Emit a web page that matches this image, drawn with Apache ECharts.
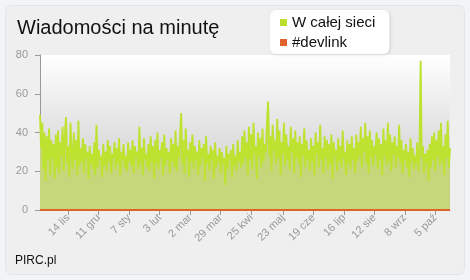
<!DOCTYPE html>
<html><head><meta charset="utf-8">
<script src="https://cdn.jsdelivr.net/npm/echarts@6/dist/echarts.min.js"></script>
<style>html,body{margin:0;padding:0;background:#f3f4f8;}#c{width:470px;height:280px;}</style>
</head><body><div id="c"></div>
<script>
const titleText = 'Wiadomości na minutę';
const seriesNames = ['W całej sieci', '#devlink'];
const monthNames = ['sty','lut','mar','kwi','maj','cze','lip','sie','wrz','paź','lis','gru'];
const startDate = [2009, 9, 20];
const tickLabels = ['14 lis','11 gru','7 sty','3 lut','2 mar','29 mar','25 kwi','23 maj','19 cze','16 lip','12 sie','8 wrz','5 paź'];
const yTicks = [0, 20, 40, 60, 80];
const allNetwork = [
49,32,45,21,40,15,38,26,42,18,36,27,34,16,39,22,41,19,35,28,
43,20,38,48,24,33,17,45,30,21,40,26,36,18,46,23,32,25,37,19,
34,27,30,16,33,24,29,21,35,18,44,22,31,26,28,17,34,23,30,20,
36,25,33,19,29,27,35,21,32,24,37,18,30,26,34,22,28,20,35,25,
31,23,36,19,33,27,30,21,43,24,32,18,37,26,29,22,34,20,38,25,
33,16,36,24,40,21,31,27,35,18,39,23,32,26,30,19,37,25,34,22,
41,20,33,27,38,50,24,36,19,42,28,31,17,35,25,39,21,33,26,30,
18,36,23,32,27,34,15,38,24,29,20,33,26,31,16,35,22,28,25,32,
19,30,24,27,13,33,21,29,26,31,17,34,23,28,20,36,25,30,22,38,
24,41,27,35,18,43,26,39,21,45,29,33,16,40,28,37,22,42,25,34,
30,46,56,28,38,20,44,31,36,24,47,27,41,18,35,29,45,23,39,26,
33,21,43,30,37,19,41,27,35,24,38,17,34,28,42,22,36,26,31,20,
37,25,33,18,40,29,35,22,44,26,32,19,38,27,36,21,34,24,39,16,
35,28,31,20,37,25,33,22,41,27,30,18,36,24,34,21,38,26,32,19,
39,25,35,28,43,22,37,30,45,24,38,19,41,27,36,23,33,29,40,21,
37,26,34,18,42,28,36,23,45,25,39,20,35,29,38,22,33,27,44,24,
36,19,31,26,34,22,30,17,37,25,32,21,28,24,35,20,30,77,27,33,
19,29,24,31,15,34,22,38,26,40,20,36,28,41,23,45,25,33,18,39,
27,46,22,32
];
const devlink = allNetwork.map(() => 0);

const categories = [];
for (let i = 0; i < allNetwork.length; i++) {
  const d = new Date(startDate[0], startDate[1], startDate[2] + i);
  categories.push(d.getDate() + ' ' + monthNames[d.getMonth()]);
}
const isTick = (i, v) => tickLabels.indexOf(categories[i]) >= 0;

const chart = echarts.init(document.getElementById('c'), null, {renderer: 'canvas'});
chart.setOption({
  animation: false,
  backgroundColor: 'transparent',
  textStyle: {fontFamily: 'Liberation Sans, Arial, sans-serif'},
  graphic: [
    {type: 'rect', z: -10, shape: {x: 5.5, y: 5.5, width: 459, height: 269, r: 6},
     style: {fill: '#efefef', stroke: '#e3e4e8', lineWidth: 1}},
    {type: 'text', left: 15, top: 255, style: {text: 'PIRC.pl', fill: '#111', font: '12px Liberation Sans, Arial, sans-serif'}}
  ],
  title: {text: titleText, left: 12, top: 13,
    textStyle: {fontSize: 20, fontWeight: 'normal', color: '#111', fontFamily: 'Liberation Sans, Arial, sans-serif'}},
  legend: {
    orient: 'vertical', left: 270, top: 10,
    backgroundColor: '#fff', borderRadius: 6, padding: [5, 14, 4, 10],
    shadowBlur: 3, shadowColor: 'rgba(0,0,0,0.12)', shadowOffsetX: 1, shadowOffsetY: 1,
    itemWidth: 7, itemHeight: 7, itemGap: 5, icon: 'rect',
    textStyle: {fontSize: 15, color: '#111'},
    data: seriesNames
  },
  grid: {left: 40, right: 20, top: 55, bottom: 70, show: true, borderWidth: 0,
    backgroundColor: new echarts.graphic.LinearGradient(0, 0, 0, 1, [
      {offset: 0, color: '#ffffff'}, {offset: 0.55, color: '#dedede'}, {offset: 1, color: '#d8d8d8'}])},
  xAxis: {
    type: 'category', boundaryGap: false, data: categories,
    axisLine: {show: true, lineStyle: {color: '#999'}},
    axisTick: {show: true, interval: isTick, length: 5, lineStyle: {color: '#999'}},
    axisLabel: {interval: isTick, rotate: 45, color: '#999', fontSize: 11, margin: 6},
    splitLine: {show: false}
  },
  yAxis: {
    type: 'value', min: yTicks[0], max: yTicks[yTicks.length - 1], interval: 20,
    axisLine: {show: true, lineStyle: {color: '#999'}},
    axisTick: {show: true, length: 5, lineStyle: {color: '#999'}},
    axisLabel: {color: '#999', fontSize: 11, margin: 12},
    splitLine: {show: false}
  },
  series: [
    {name: seriesNames[0], type: 'line', data: allNetwork, symbol: 'none', sampling: null,
     itemStyle: {color: '#bcdf2e'},
     lineStyle: {color: '#bde230', width: 1.9},
     areaStyle: {color: '#c5d67b', opacity: 1}},
    {name: seriesNames[1], type: 'line', data: devlink, symbol: 'none',
     itemStyle: {color: '#e0622c'},
     lineStyle: {color: '#e0622c', width: 2}}
  ]
});
</script></body></html>
